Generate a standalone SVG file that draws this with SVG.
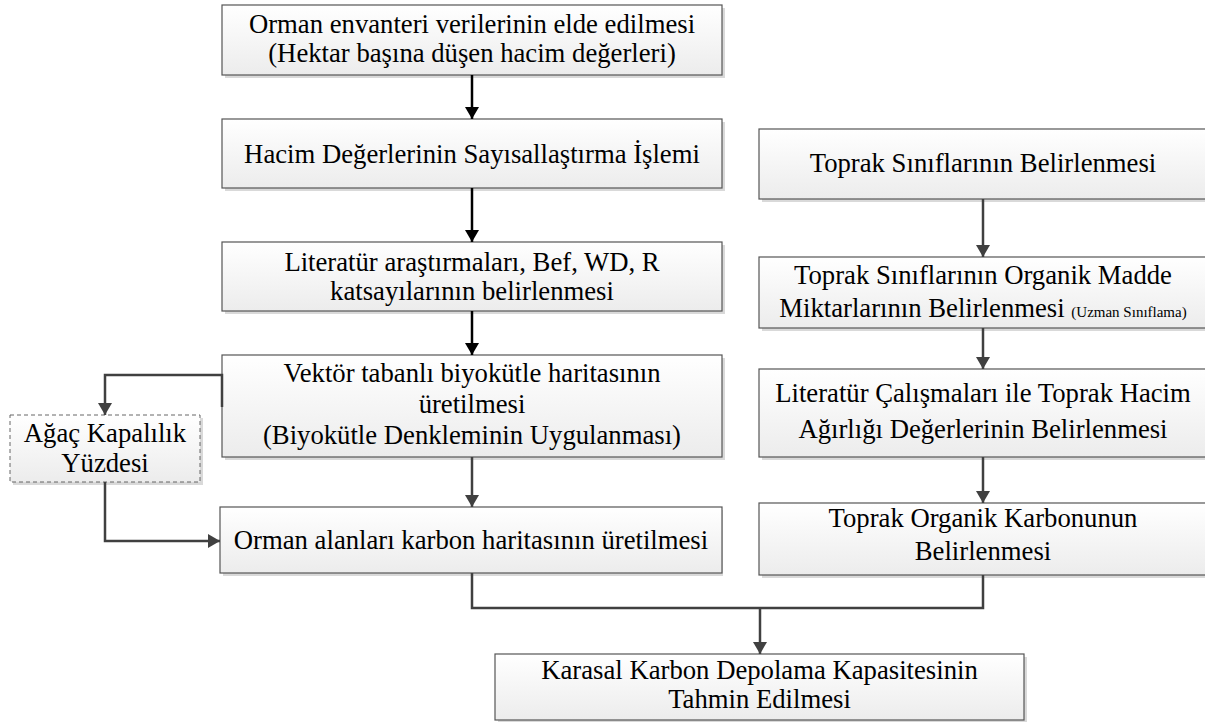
<svg xmlns="http://www.w3.org/2000/svg" width="1205" height="722" viewBox="0 0 1205 722">
<defs>
<linearGradient id="g" x1="0" y1="0" x2="0" y2="1">
<stop offset="0" stop-color="#ffffff"/>
<stop offset="1" stop-color="#ececec"/>
</linearGradient>
<marker id="ab" markerWidth="12" markerHeight="14" refX="12" refY="7" orient="auto" markerUnits="userSpaceOnUse" viewBox="0 0 12 14">
<path d="M0,0 L12,7 L0,14 Z" fill="#000"/>
</marker>
<marker id="ag" markerWidth="12" markerHeight="14" refX="12" refY="7" orient="auto" markerUnits="userSpaceOnUse" viewBox="0 0 12 14">
<path d="M0,0 L12,7 L0,14 Z" fill="#404040"/>
</marker>
</defs>
<style>
.sh{fill:#d9d9d9}
.bx{fill:url(#g);stroke:#555;stroke-width:1.2}
.dash{fill:url(#g);stroke:#666;stroke-width:1;stroke-dasharray:4,3}
text{font-size:26.7px;fill:#000;text-anchor:middle}
.sm{font-size:15px}
.cb{fill:none;stroke:#000;stroke-width:2.5}
.cg{fill:none;stroke:#404040;stroke-width:2.5}
</style>
<rect width="1205" height="722" fill="#fff"/>
<g font-family="Liberation Serif, serif">
<g id="n1"><rect class="sh" x="225" y="8" width="500" height="70"/><rect class="bx" x="222" y="5" width="500" height="70"/>
<text x="472" y="33" font-family="Liberation Serif">Orman envanteri verilerinin elde edilmesi</text><text x="472" y="62" font-family="Liberation Serif">(Hektar başına düşen hacim değerleri)</text></g>
<g id="n2"><rect class="sh" x="225" y="122" width="500" height="69"/><rect class="bx" x="222" y="119" width="500" height="69"/>
<text x="472" y="163" font-family="Liberation Serif">Hacim Değerlerinin Sayısallaştırma İşlemi</text></g>
<g id="n3"><rect class="sh" x="225" y="245" width="500" height="69"/><rect class="bx" x="222" y="242" width="500" height="69"/>
<text x="472" y="271" font-family="Liberation Serif">Literatür araştırmaları, Bef, WD, R</text><text x="472" y="300" font-family="Liberation Serif">katsayılarının belirlenmesi</text></g>
<g id="n4"><rect class="sh" x="225" y="358" width="500" height="102"/><rect class="bx" x="222" y="355" width="500" height="102"/>
<text x="472" y="382" font-family="Liberation Serif">Vektör tabanlı biyokütle haritasının</text><text x="472" y="413" font-family="Liberation Serif">üretilmesi</text><text x="472" y="444" font-family="Liberation Serif">(Biyokütle Denkleminin Uygulanması)</text></g>
<g id="n5"><rect class="sh" x="223" y="510" width="500" height="66"/><rect class="bx" x="220" y="507" width="502" height="66"/>
<text x="471" y="549" font-family="Liberation Serif">Orman alanları karbon haritasının üretilmesi</text></g>
<g id="n6"><rect class="sh" x="13" y="418" width="190" height="67"/><rect class="dash" x="10" y="415" width="190" height="67"/>
<text x="105" y="442" font-family="Liberation Serif">Ağaç Kapalılık</text><text x="105" y="472" font-family="Liberation Serif">Yüzdesi</text></g>
<g id="r1"><rect class="sh" x="762" y="132" width="450" height="70"/><rect class="bx" x="759" y="129" width="450" height="70"/>
<text x="983" y="172" font-family="Liberation Serif">Toprak Sınıflarının Belirlenmesi</text></g>
<g id="r2"><rect class="sh" x="762" y="260" width="450" height="71"/><rect class="bx" x="759" y="257" width="450" height="71"/>
<text x="983" y="284" font-family="Liberation Serif">Toprak Sınıflarının Organik Madde</text><text x="983" y="317" font-family="Liberation Serif">Miktarlarının Belirlenmesi <tspan class="sm">(Uzman Sınıflama)</tspan></text></g>
<g id="r3"><rect class="sh" x="762" y="372" width="450" height="88"/><rect class="bx" x="759" y="369" width="450" height="88"/>
<text x="983" y="402" font-family="Liberation Serif">Literatür Çalışmaları ile Toprak Hacim</text><text x="983" y="438" font-family="Liberation Serif">Ağırlığı Değerlerinin Belirlenmesi</text></g>
<g id="r4"><rect class="sh" x="762" y="506" width="450" height="72"/><rect class="bx" x="759" y="503" width="450" height="72"/>
<text x="983" y="527" font-family="Liberation Serif">Toprak Organik Karbonunun</text><text x="983" y="560" font-family="Liberation Serif">Belirlenmesi</text></g>
<g id="n7"><rect class="sh" x="498" y="657" width="529" height="66"/><rect class="bx" x="495" y="654" width="529" height="66"/>
<text x="759.5" y="679" font-family="Liberation Serif">Karasal Karbon Depolama Kapasitesinin</text><text x="759.5" y="708" font-family="Liberation Serif">Tahmin Edilmesi</text></g>
</g>
<g id="connectors">
<path class="cb" d="M472,75 V119" marker-end="url(#ab)"/>
<path class="cb" d="M472,188 V242" marker-end="url(#ab)"/>
<path class="cb" d="M472,311 V355" marker-end="url(#ab)"/>
<path class="cg" d="M222,407 V375 H105 V415" marker-end="url(#ag)"/>
<path class="cg" d="M472,457 V507" marker-end="url(#ag)"/>
<path class="cg" d="M105,482 V541 H220" marker-end="url(#ag)"/>
<path class="cg" d="M983,199 V257" marker-end="url(#ag)"/>
<path class="cg" d="M983,328 V369" marker-end="url(#ag)"/>
<path class="cg" d="M983,457 V503" marker-end="url(#ag)"/>
<path class="cg" d="M472,573 V608 H983 V575"/>
<path class="cg" d="M760,608 V654" marker-end="url(#ag)"/>
</g>
</svg>
